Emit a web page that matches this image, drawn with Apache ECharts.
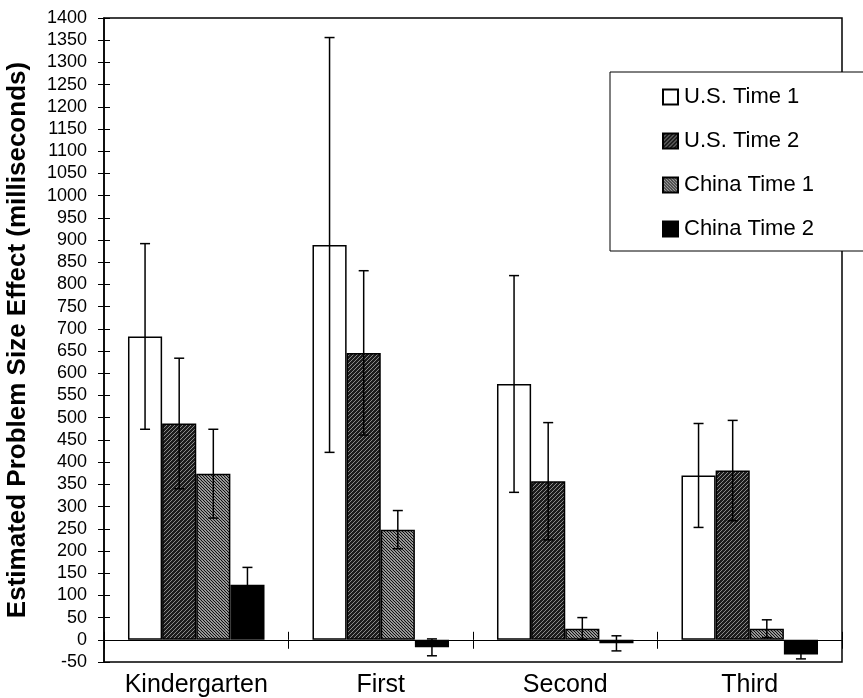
<!DOCTYPE html>
<html lang="en">
<head>
  <meta charset="UTF-8">
  <title>Problem size effect</title>
  <style type="text/css">
    html, body { margin: 0; padding: 0; background: #fff; }
    #main { width: 863px; height: 698px; }
  </style>
</head>
<body>
  <div id="main"></div>
  <script src="https://cdn.jsdelivr.net/npm/echarts@6/dist/echarts.min.js"></script>
  <script type="text/javascript">

    var categories = ['Kindergarten', 'First', 'Second', 'Third']
    var seriesNames = ['U.S. Time 1', 'U.S. Time 2', 'China Time 1', 'China Time 2']

    var usTime1 = [683, 889, 576, 370]
    var usTime2 = [487, 646, 357, 381]
    var chinaTime1 = [374, 248, 25, 25]
    var chinaTime2 = [124, -17, -8, -33]

    // half-length of each error bar
    var usTime1Err = [209, 467, 244, 117]
    var usTime2Err = [147, 185, 132, 113]
    var chinaTime1Err = [100, 43, 25, 20]
    var chinaTime2Err = [39, 19, 17, 10]

    var yTicks = { min: -50, max: 1400, step: 50 }

    var FONT = 'Liberation Sans, Arial, sans-serif'
    var CAT_GAP = 0.26

    // small repeating hatch tiles for the scanned-print look
    function hatch (bg, fg, size, width, dir) {
      var c = document.createElement('canvas')
      c.width = size
      c.height = size
      var ctx = c.getContext('2d')
      ctx.fillStyle = bg
      ctx.fillRect(0, 0, size, size)
      ctx.strokeStyle = fg
      ctx.lineWidth = width
      ctx.beginPath()
      if (dir === '/') {
        ctx.moveTo(-1, size + 1); ctx.lineTo(size + 1, -1)
        ctx.moveTo(-1, 1); ctx.lineTo(1, -1)
        ctx.moveTo(size - 1, size + 1); ctx.lineTo(size + 1, size - 1)
      } else {
        ctx.moveTo(-1, -1); ctx.lineTo(size + 1, size + 1)
        ctx.moveTo(size - 1, -1); ctx.lineTo(size + 1, 1)
        ctx.moveTo(-1, size - 1); ctx.lineTo(1, size + 1)
      }
      ctx.stroke()
      return { image: c, repeat: 'repeat' }
    }

    var fills = [
      '#ffffff',
      hatch('#1c1c1c', '#8a8a8a', 4, 1, '/'),
      hatch('#ffffff', '#111111', 3, 1.3, '\\'),
      '#000000'
    ]

    var values = [usTime1, usTime2, chinaTime1, chinaTime2]
    var errors = [usTime1Err, usTime2Err, chinaTime1Err, chinaTime2Err]

    var errData = []
    values.forEach(function (vals, s) {
      vals.forEach(function (v, i) {
        errData.push([i, s, v - errors[s][i], v + errors[s][i]])
      })
    })

    var myChart = echarts.init(document.getElementById('main'))

    var series = seriesNames.map(function (name, s) {
      return {
        name: name,
        type: 'bar',
        barGap: '0%',
        barCategoryGap: (CAT_GAP * 100) + '%',
        itemStyle: { color: fills[s], borderColor: '#000', borderWidth: 1.5 },
        data: values[s]
      }
    })

    series.push({
      type: 'custom',
      name: 'error',
      z: 5,
      data: errData,
      encode: { x: 0, y: [2, 3] },
      renderItem: function (params, api) {
        var band = api.size([1, 0])[0]
        var barW = band * (1 - CAT_GAP) / 4
        var center = api.coord([api.value(0), 0])[0]
        var x = center - band * (1 - CAT_GAP) / 2 + (api.value(1) + 0.5) * barW
        var lo = api.coord([api.value(0), api.value(2)])[1]
        var hi = api.coord([api.value(0), api.value(3)])[1]
        var cap = 5
        var style = { stroke: '#000', lineWidth: 1.5 }
        return {
          type: 'group',
          children: [
            { type: 'line', shape: { x1: x, y1: lo, x2: x, y2: hi }, style: style },
            { type: 'line', shape: { x1: x - cap, y1: hi, x2: x + cap, y2: hi }, style: style },
            { type: 'line', shape: { x1: x - cap, y1: lo, x2: x + cap, y2: lo }, style: style }
          ]
        }
      }
    })

    var yBase = {
      type: 'value',
      min: yTicks.min,
      max: yTicks.max,
      interval: yTicks.step,
      position: 'left',
      splitLine: { show: false }
    }

    var xBase = {
      type: 'category',
      data: categories,
      position: 'bottom'
    }

    var option = {
      animation: false,
      textStyle: { fontFamily: FONT, color: '#000' },
      grid: {
        left: 104, right: 21, top: 18, bottom: 36,
        show: true, borderColor: '#000', borderWidth: 1.5,
        containLabel: false,
        outerBoundsMode: 'none'
      },
      legend: {
        data: seriesNames,
        orient: 'vertical',
        left: 610,
        top: 72,
        padding: [14, 90, 11, 52],
        itemGap: 22,
        itemWidth: 15,
        itemHeight: 15,
        icon: 'rect',
        backgroundColor: '#fff',
        borderColor: '#000',
        borderWidth: 1,
        borderRadius: 0,
        textStyle: { fontFamily: FONT, fontSize: 22, color: '#000', padding: [0, 0, 0, 1] }
      },
      xAxis: [
        // category names under the bottom frame
        Object.assign({}, xBase, {
          axisLine: { show: false, onZero: false },
          axisTick: { show: false },
          axisLabel: { fontFamily: FONT, fontSize: 25, color: '#000', margin: 11, interval: 0, hideOverlap: false }
        }),
        // zero line with ticks crossing it
        Object.assign({}, xBase, {
          axisLine: { show: true, onZero: true, lineStyle: { color: '#000', width: 1.2 } },
          axisTick: { show: true, length: 9, lineStyle: { color: '#000' } },
          axisLabel: { show: false }
        }),
        Object.assign({}, xBase, {
          axisLine: { show: false, onZero: true },
          axisTick: { show: true, inside: true, length: 8, lineStyle: { color: '#000' } },
          axisLabel: { show: false }
        })
      ],
      yAxis: [
        Object.assign({}, yBase, {
          name: 'Estimated Problem Size Effect (milliseconds)',
          nameLocation: 'middle',
          nameGap: 73,
          nameTextStyle: { fontFamily: FONT, fontSize: 26, fontWeight: 'bold', color: '#000' },
          axisLine: { show: true, lineStyle: { color: '#000', width: 1.5 } },
          axisTick: { show: true, length: 6, lineStyle: { color: '#000' } },
          axisLabel: {
            fontFamily: FONT, fontSize: 18, color: '#000', margin: 17,
            formatter: function (v) { return String(v) }
          }
        }),
        Object.assign({}, yBase, {
          axisLine: { show: false },
          axisTick: { show: true, inside: true, length: 6, lineStyle: { color: '#000' } },
          axisLabel: { show: false }
        })
      ],
      series: series
    }

    myChart.setOption(option)
  </script>
</body>
</html>
